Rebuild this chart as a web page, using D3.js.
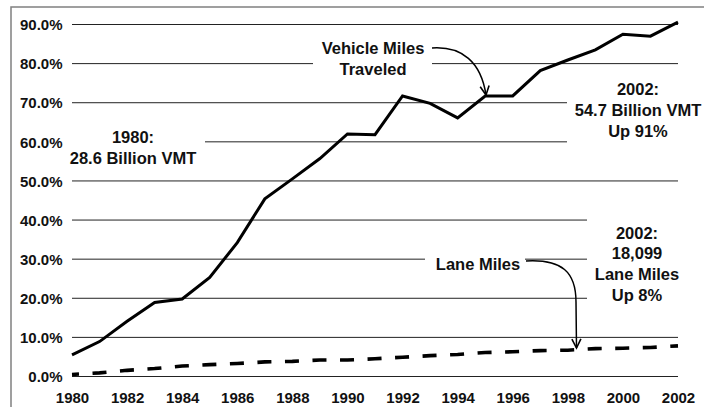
<!DOCTYPE html>
<meta charset="utf-8">
<script src="https://d3js.org/d3.v7.min.js"></script>
<body style="margin:0;background:#fff">
<svg width="704" height="407"></svg>
<style type="text/css">
text { font-family: "Liberation Sans", Arial, Helvetica, sans-serif; font-weight: bold; fill: #111; }
</style>
<script>
  // values, percent change since 1980
  var years = [1980, 1981, 1982, 1983, 1984, 1985, 1986, 1987, 1988, 1989, 1990, 1991,
               1992, 1993, 1994, 1995, 1996, 1997, 1998, 1999, 2000, 2001, 2002];
  var vmt = [5.4, 8.8, 14.0, 18.8, 19.7, 25.2, 34.1, 45.3, 50.4, 55.6, 61.9, 61.7,
             71.6, 69.7, 66.0, 71.6, 71.6, 78.1, 80.8, 83.4, 87.4, 86.9, 90.5];
  var laneMiles = [0.4, 0.8, 1.45, 1.9, 2.55, 2.9, 3.2, 3.6, 3.75, 4.1, 4.1, 4.4,
                   4.8, 5.2, 5.5, 6.0, 6.2, 6.5, 6.6, 7.0, 7.1, 7.3, 7.7];
  var yTicks = [0, 10, 20, 30, 40, 50, 60, 70, 80, 90];
  var xTicks = [1980, 1982, 1984, 1986, 1988, 1990, 1992, 1994, 1996, 1998, 2000, 2002];

  var svg = d3.select('svg');
  var x = d3.scaleLinear().domain([1980, 2002]).range([72, 678]);
  var y = d3.scaleLinear().domain([0, 90]).range([376, 24]);

  // frame (cropped, only left and top edges visible)
  svg.append('rect')
    .attr('x', 11).attr('y', 7).attr('width', 760).attr('height', 460)
    .attr('fill', 'none').attr('stroke', '#808080').attr('stroke-width', 1.5);

  /* ----------- grid ----------- */
  var grid = svg.append('g')
    .attr('transform', 'translate(72,0)')
    .call(d3.axisRight(y).tickValues(yTicks).tickSize(606).tickFormat(''));
  grid.select('.domain').remove();
  grid.selectAll('line').attr('stroke', '#222').attr('stroke-width', 1);

  /* ----------- label masks (hide gridlines behind notes) ----------- */
  var masks = [[313, 38, 119, 42], [66, 122, 139, 48], [567, 76, 140, 70],
               [425, 248, 100, 24], [587, 212, 120, 94]];
  svg.selectAll('rect.mask').data(masks).enter().append('rect')
    .attr('class', 'mask')
    .attr('x', function(d){ return d[0]; })
    .attr('y', function(d){ return d[1]; })
    .attr('width', function(d){ return d[2]; })
    .attr('height', function(d){ return d[3]; })
    .attr('fill', '#fff');

  /* ----------- series ----------- */
  var line = d3.line().x(function(d){ return x(d[0]); }).y(function(d){ return y(d[1]); });

  svg.append('path')
    .datum(d3.zip(years, laneMiles))
    .attr('fill', 'none').attr('stroke', '#000').attr('stroke-width', 3.6)
    .attr('stroke-dasharray', '14,13.55').attr('stroke-dashoffset', 7)
    .attr('d', line);

  svg.append('path')
    .datum(d3.zip(years, vmt))
    .attr('fill', 'none').attr('stroke', '#000').attr('stroke-width', 3)
    .attr('stroke-linejoin', 'miter')
    .attr('d', line);

  /* ----------- axes labels ----------- */
  var yAxis = svg.append('g')
    .attr('transform', 'translate(62.5,0)')
    .call(d3.axisLeft(y).tickValues(yTicks).tickSize(0).tickPadding(0)
      .tickFormat(function(d){ return d.toFixed(1) + '%'; }));
  yAxis.select('.domain').remove();
  yAxis.selectAll('text').attr('font-size', 15).attr('dy', '0.38em')
    .style('font-family', '"Liberation Sans", Arial, sans-serif').style('font-weight', 'bold');

  var xAxis = svg.append('g')
    .attr('transform', 'translate(0,403)')
    .call(d3.axisBottom(x).tickValues(xTicks).tickSize(0).tickPadding(0).tickFormat(d3.format('d')));
  xAxis.select('.domain').remove();
  xAxis.selectAll('text').attr('font-size', 15).attr('dy', 0).attr('y', 0)
    .style('font-family', '"Liberation Sans", Arial, sans-serif').style('font-weight', 'bold');

  /* ----------- notes ----------- */
  var notes = [
    {x: 373, y: 54, lines: ['Vehicle Miles', 'Traveled'], lh: 21},
    {x: 133, y: 142.5, lines: ['1980:', '28.6 Billion VMT'], lh: 21.5},
    {x: 638, y: 95, lines: ['2002:', '54.7 Billion VMT', 'Up 91%'], lh: 21},
    {x: 478, y: 270, lines: ['Lane Miles'], lh: 21},
    {x: 637, y: 238.5, lines: ['2002:', '18,099', 'Lane Miles', 'Up 8%'], lh: 20.8}
  ];
  notes.forEach(function(n){
    var t = svg.append('text').attr('text-anchor', 'middle').attr('font-size', 16.5);
    n.lines.forEach(function(s, i){
      t.append('tspan').attr('x', n.x).attr('y', n.y + i * n.lh).text(s);
    });
  });

  /* ----------- arrows ----------- */
  var defs = svg.append('defs');
  defs.append('marker')
    .attr('id', 'head').attr('markerUnits', 'userSpaceOnUse')
    .attr('markerWidth', 20).attr('markerHeight', 20)
    .attr('refX', 10).attr('refY', 10).attr('orient', 'auto')
    .append('path')
    .attr('d', 'M1,5.5 L10,10 L1,14.5')
    .attr('fill', 'none').attr('stroke', '#000').attr('stroke-width', 1.6);

  svg.append('path')
    .attr('d', 'M432,48 C462,46 481,62 486,95')
    .attr('fill', 'none').attr('stroke', '#000').attr('stroke-width', 1.5)
    .attr('marker-end', 'url(#head)');

  svg.append('path')
    .attr('d', 'M526,261 C562,259 576,272 576,302 L576.5,348')
    .attr('fill', 'none').attr('stroke', '#000').attr('stroke-width', 1.5)
    .attr('marker-end', 'url(#head)');
</script>
</body>
